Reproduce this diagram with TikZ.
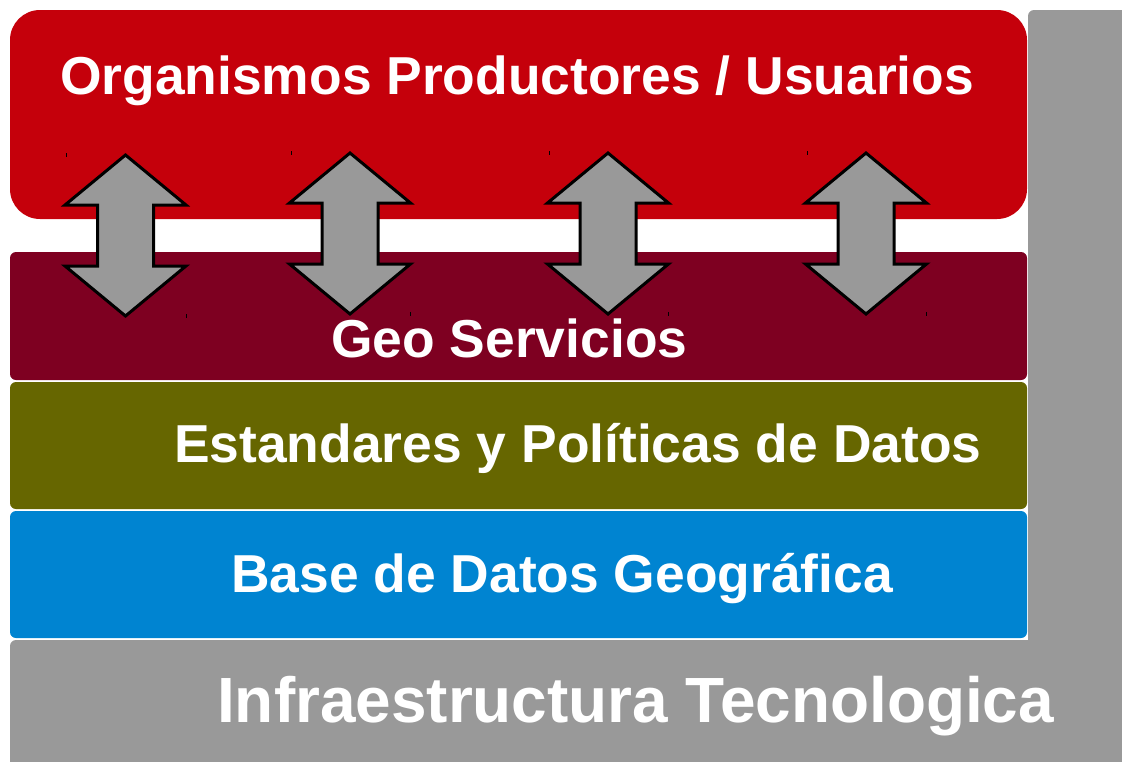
\documentclass[tikz,border=0pt]{standalone}
\usepackage{fontspec}
\setmainfont{Liberation Sans}
\definecolor{cred}{HTML}{C5000B}
\definecolor{cdred}{HTML}{7E0021}
\definecolor{colive}{HTML}{666600}
\definecolor{cblue}{HTML}{0084D1}
\definecolor{cgray}{HTML}{999999}
\tikzset{
  layerbox/.style={rounded corners=6pt},
  dblarrow/.style={fill=cgray, draw=black, line width=3pt, line join=miter},
  tick/.style={draw=black, line width=1pt},
  label/.style={anchor=base west, inner sep=0pt, text=white, font=\bfseries\fontsize{53.4}{60}\selectfont},
  biglabel/.style={label, font=\bfseries\fontsize{63.9}{70}\selectfont},
}
\begin{document}
\begin{tikzpicture}[x=1pt,y=-1pt]
\useasboundingbox (0,0) rectangle (1122,761);
\begin{scope}
\clip (0,0) rectangle (1122,761);
\fill[cgray, layerbox] (1028,10) rectangle (1140,780);
\fill[cgray, layerbox] (10,640) rectangle (1140,780);
\end{scope}
\fill[cred, rounded corners=30pt] (10,10) rectangle (1027,219);
\fill[cdred, layerbox] (10,252) rectangle (1027,380);
\fill[colive, layerbox] (10,382) rectangle (1027,509);
\fill[cblue, layerbox] (10,511) rectangle (1027,638);
\foreach \cx/\ty in {125.5/155, 350/153, 608/153, 866/153}{
  \draw[dblarrow] (\cx,\ty) -- ++(60.5,50) -- ++(-32.5,0) -- ++(0,61) -- ++(32.5,0)
     -- ++(-60.5,50) -- ++(-60.5,-50) -- ++(32.5,0) -- ++(0,-61) -- ++(-32.5,0) -- cycle;
  \draw[tick] (\cx-59,\ty-2) -- ++(0,4);
  \draw[tick] (\cx+60.5,\ty+159) -- ++(0,4);
}
\node[label] (org) at (60,94) {Organismos Productores / Usuarios};
\node[label] (geo) at (331,357) {Geo Servicios};
\node[label] (est) at (174,462) {Estandares y Políticas de Datos};
\node[label] (bdg) at (231,592) {Base de Datos Geográfica};
\node[biglabel] (inf) at (217,722) {Infraestructura Tecnologica};
\end{tikzpicture}
\end{document}
